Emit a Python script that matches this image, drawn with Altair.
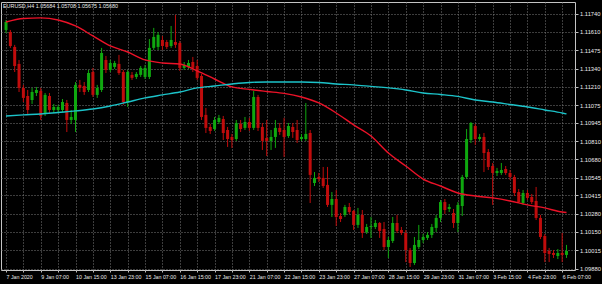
import altair as alt
import pandas as pd

# ---- data (EURUSD H4) ----
bar_index = list(range(-1, 129))

opens = [1.11623, 1.11608, 1.11499, 1.11375, 1.11200, 1.11141, 1.11112, 1.11163, 1.11178, 1.11017,
         1.11141, 1.11039, 1.11039, 1.11039, 1.11090, 1.10966, 1.10966, 1.11222, 1.11214, 1.11185,
         1.11316, 1.11149, 1.11185, 1.11404, 1.11331, 1.11353, 1.11375, 1.11316, 1.11097, 1.11295,
         1.11280, 1.11295, 1.11280, 1.11280, 1.11492, 1.11499, 1.11550, 1.11535, 1.11506, 1.11535,
         1.11528, 1.11346, 1.11353, 1.11389, 1.11360, 1.11287, 1.11003, 1.10915, 1.10900, 1.10951,
         1.10973, 1.10893, 1.10842, 1.10827, 1.10937, 1.10908, 1.10951, 1.10908, 1.11134, 1.10915,
         1.10835, 1.10813, 1.10842, 1.10908, 1.10893, 1.10849, 1.10915, 1.10893, 1.10827, 1.10827,
         1.10871, 1.10506, 1.10550, 1.10543, 1.10492, 1.10346, 1.10389, 1.10265, 1.10273, 1.10331,
         1.10302, 1.10200, 1.10273, 1.10148, 1.10185, 1.10185, 1.10214, 1.10170, 1.10039, 1.10083,
         1.10214, 1.10163, 1.10141, 1.10017, 1.09922, 1.10039, 1.10090, 1.10105, 1.10127, 1.10178,
         1.10251, 1.10367, 1.10316, 1.10287, 1.10214, 1.10338, 1.10550, 1.10820, 1.10922, 1.10827,
         1.10842, 1.10732, 1.10630, 1.10579, 1.10579, 1.10608, 1.10579, 1.10550, 1.10440, 1.10360,
         1.10433, 1.10404, 1.10375, 1.10251, 1.10119, 1.10010, 1.09995, 1.09973, 1.09995, 1.09981]

highs = [1.11696, 1.11623, 1.11514, 1.11404, 1.11222, 1.11185, 1.11200, 1.11207, 1.11200, 1.11163,
         1.11163, 1.11083, 1.11076, 1.11119, 1.11112, 1.11039, 1.11243, 1.11258, 1.11243, 1.11331,
         1.11346, 1.11222, 1.11492, 1.11433, 1.11404, 1.11397, 1.11441, 1.11331, 1.11331, 1.11316,
         1.11316, 1.11360, 1.11368, 1.11557, 1.11638, 1.11608, 1.11579, 1.11550, 1.11652, 1.11733,
         1.11543, 1.11389, 1.11404, 1.11426, 1.11404, 1.11302, 1.11054, 1.10937, 1.10988, 1.11003,
         1.10995, 1.10915, 1.10864, 1.10966, 1.10966, 1.10988, 1.10981, 1.11178, 1.11149, 1.10944,
         1.10966, 1.10893, 1.10966, 1.10944, 1.10981, 1.10944, 1.10944, 1.10966, 1.10864, 1.11090,
         1.10893, 1.10586, 1.10579, 1.10623, 1.10623, 1.10440, 1.10455, 1.10287, 1.10346, 1.10360,
         1.10309, 1.10324, 1.10309, 1.10207, 1.10258, 1.10236, 1.10221, 1.10221, 1.10112, 1.10258,
         1.10273, 1.10185, 1.10163, 1.10032, 1.10112, 1.10200, 1.10134, 1.10148, 1.10207, 1.10273,
         1.10382, 1.10389, 1.10353, 1.10316, 1.10367, 1.10565, 1.10900, 1.10951, 1.10937, 1.10864,
         1.10871, 1.10754, 1.10652, 1.10616, 1.10652, 1.10630, 1.10601, 1.10565, 1.10462, 1.10455,
         1.10455, 1.10426, 1.10477, 1.10273, 1.10134, 1.10032, 1.10017, 1.10024, 1.10141, 1.10054]

lows = [1.11601, 1.11492, 1.11316, 1.11170, 1.11097, 1.11010, 1.11083, 1.11141, 1.10966, 1.10995,
        1.11010, 1.11017, 1.11024, 1.11024, 1.10878, 1.10937, 1.10878, 1.11170, 1.11149, 1.11170,
        1.11134, 1.11127, 1.11170, 1.11309, 1.11316, 1.11338, 1.11295, 1.11076, 1.11061, 1.11258,
        1.11265, 1.11280, 1.11265, 1.11265, 1.11477, 1.11477, 1.11477, 1.11484, 1.11492, 1.11492,
        1.11324, 1.11331, 1.11338, 1.11316, 1.11258, 1.10966, 1.10871, 1.10864, 1.10886, 1.10937,
        1.10820, 1.10769, 1.10762, 1.10813, 1.10878, 1.10893, 1.10886, 1.10893, 1.10886, 1.10747,
        1.10703, 1.10747, 1.10762, 1.10857, 1.10696, 1.10835, 1.10835, 1.10798, 1.10813, 1.10813,
        1.10360, 1.10484, 1.10513, 1.10470, 1.10331, 1.10258, 1.10192, 1.10221, 1.10258, 1.10280,
        1.10163, 1.10178, 1.10105, 1.10134, 1.10105, 1.10170, 1.10105, 1.10017, 1.09959, 1.10068,
        1.10141, 1.10127, 1.09929, 1.09893, 1.09908, 1.10024, 1.10068, 1.10090, 1.10105, 1.10148,
        1.10221, 1.10280, 1.10294, 1.10178, 1.10148, 1.10265, 1.10535, 1.10798, 1.10784, 1.10813,
        1.10586, 1.10601, 1.10346, 1.10557, 1.10565, 1.10565, 1.10528, 1.10411, 1.10360, 1.10346,
        1.10382, 1.10353, 1.10236, 1.10097, 1.09929, 1.09929, 1.09959, 1.09951, 1.09929, 1.09959]

closes = [1.11681, 1.11506, 1.11360, 1.11200, 1.11127, 1.11039, 1.11170, 1.11185, 1.10995, 1.11149,
          1.11039, 1.11061, 1.11061, 1.11097, 1.10966, 1.10988, 1.11222, 1.11200, 1.11170, 1.11309,
          1.11149, 1.11200, 1.11455, 1.11331, 1.11382, 1.11382, 1.11309, 1.11097, 1.11316, 1.11273,
          1.11302, 1.11346, 1.11346, 1.11492, 1.11572, 1.11587, 1.11506, 1.11499, 1.11550, 1.11514,
          1.11346, 1.11368, 1.11382, 1.11346, 1.11273, 1.10988, 1.10908, 1.10886, 1.10966, 1.10981,
          1.10871, 1.10827, 1.10820, 1.10944, 1.10900, 1.10951, 1.10908, 1.11134, 1.10908, 1.10813,
          1.10813, 1.10842, 1.10908, 1.10878, 1.10842, 1.10922, 1.10878, 1.10820, 1.10842, 1.10864,
          1.10565, 1.10543, 1.10535, 1.10484, 1.10346, 1.10389, 1.10258, 1.10243, 1.10331, 1.10294,
          1.10200, 1.10273, 1.10141, 1.10185, 1.10192, 1.10214, 1.10156, 1.10039, 1.10090, 1.10214,
          1.10156, 1.10141, 1.10017, 1.09922, 1.10054, 1.10090, 1.10112, 1.10127, 1.10185, 1.10251,
          1.10367, 1.10309, 1.10331, 1.10214, 1.10346, 1.10550, 1.10827, 1.10944, 1.10827, 1.10842,
          1.10725, 1.10623, 1.10579, 1.10594, 1.10601, 1.10579, 1.10550, 1.10433, 1.10367, 1.10433,
          1.10397, 1.10367, 1.10251, 1.10112, 1.09995, 1.09988, 1.09981, 1.09995, 1.09981, 1.10010]

ma_index = [-1, 3, 7, 11, 15, 19, 23, 27, 31, 35, 39, 43, 47, 51, 55, 59, 63, 67, 71, 75,
            79, 83, 87, 91, 95, 99, 103, 107, 111, 115, 119, 123, 127, 128]
ma_red = [1.11681, 1.11707, 1.11711, 1.11696, 1.11652, 1.11579, 1.11506, 1.11462, 1.11404, 1.11382,
          1.11375, 1.11324, 1.11265, 1.11207, 1.11189, 1.11174, 1.11160, 1.11134, 1.11090, 1.11017,
          1.10930, 1.10849, 1.10725, 1.10630, 1.10535, 1.10484, 1.10433, 1.10411, 1.10397, 1.10375,
          1.10346, 1.10324, 1.10294, 1.10291]
ma_cyan = [1.10995, 1.11003, 1.11010, 1.11021, 1.11032, 1.11046, 1.11068, 1.11097, 1.11127, 1.11149,
           1.11170, 1.11200, 1.11214, 1.11229, 1.11240, 1.11243, 1.11243, 1.11243, 1.11240, 1.11229,
           1.11222, 1.11211, 1.11200, 1.11185, 1.11163, 1.11152, 1.11138, 1.11112, 1.11097, 1.11079,
           1.11061, 1.11039, 1.11017, 1.11010]

y_ticks = [1.11740, 1.11610, 1.11475, 1.11340, 1.11210, 1.11075, 1.10945, 1.10810,
           1.10680, 1.10545, 1.10415, 1.10280, 1.10150, 1.10015, 1.09880]

x_label_index = [-1, 7, 15, 23, 31, 39, 47, 55, 63, 71, 79, 87, 95, 103, 111, 119, 127]
x_labels = ["7 Jan 2020", "9 Jan 07:00", "10 Jan 15:00", "13 Jan 23:00", "15 Jan 07:00",
            "16 Jan 15:00", "17 Jan 23:00", "21 Jan 07:00", "22 Jan 15:00", "23 Jan 23:00",
            "27 Jan 07:00", "28 Jan 15:00", "29 Jan 23:00", "31 Jan 07:00", "3 Feb 15:00",
            "4 Feb 23:00", "6 Feb 07:00"]
x_grid_index = list(range(-1, 128, 4))

title_text = ["EURUSD,H4  1.05684 1.05708 1.05675 1.05680"]

# ---- tables ----
df = pd.DataFrame({"i": bar_index, "open": opens, "high": highs, "low": lows, "close": closes})
df["dir"] = ["up" if c >= o else "down" for o, c in zip(opens, closes)]
ma_df = pd.DataFrame({"i": ma_index, "red": ma_red, "cyan": ma_cyan})
title_df = pd.DataFrame({"t": title_text})

FONT = "Liberation Sans"
TXT = "#ebebeb"
GRID = "#7a7a7a"

xs = alt.Scale(domain=[-1.0, 128.8], nice=False, zero=False)
ys = alt.Scale(domain=[1.09871, 1.11827], nice=False, zero=False)

label_expr = "".join(f"datum.value == {i} ? '{t}' : " for i, t in zip(x_label_index, x_labels)) + "''"

x_axis = alt.Axis(values=x_grid_index, labelExpr=label_expr, grid=True, gridColor=GRID,
                  gridDash=[1, 2], gridWidth=1, domain=False, ticks=True, tickColor="#bfbfbf",
                  tickSize=2, labelColor=TXT, labelFont=FONT, labelFontSize=5.3,
                  labelAlign="left", labelBaseline="top", labelPadding=2, labelOverlap=False,
                  labelFlush=False, labelBound=False, title=None)
y_axis = alt.Axis(orient="right", values=y_ticks, format=".5f", grid=True, gridColor=GRID,
                  gridDash=[1, 2], gridWidth=1, domain=False, ticks=True, tickColor="#bfbfbf",
                  tickSize=3, labelColor=TXT, labelFont=FONT, labelFontSize=5.8,
                  labelAlign="left", labelBaseline="middle", labelPadding=1.5, labelOverlap=False,
                  labelFlush=False, labelBound=False, title=None)


def X():
    return alt.X("i:Q", scale=xs, axis=x_axis)


def Y(field):
    return alt.Y(f"{field}:Q", scale=ys, axis=y_axis)


color = alt.Color("dir:N", scale=alt.Scale(domain=["up", "down"], range=["#14e614", "#ff1414"]),
                  legend=None)
wick_color = alt.Color("dir:N", scale=alt.Scale(domain=["up", "down"], range=["#0fa80f", "#c00c0c"]),
                       legend=None)

base = alt.Chart(df)

wicks = base.mark_rule(strokeWidth=1, clip=True).encode(
    x=X(), y=Y("low"), y2="high:Q", color=wick_color)

bodies = base.mark_bar(size=3, clip=True).encode(
    x=X(), y=Y("open"), y2="close:Q", color=color)

red_line = alt.Chart(ma_df).mark_line(color="#ec1228", strokeWidth=1.4, interpolate="monotone",
                                      clip=True).encode(x=X(), y=Y("red"))
cyan_line = alt.Chart(ma_df).mark_line(color="#1cc3c9", strokeWidth=1.4, interpolate="monotone",
                                       clip=True).encode(x=X(), y=Y("cyan"))

title = alt.Chart(title_df).mark_text(align="left", baseline="middle", font=FONT, fontSize=5.4,
                                      color=TXT).encode(
    x=alt.value(2), y=alt.value(4), text="t:N")

chart = alt.layer(wicks, bodies, red_line, cyan_line, title).properties(
    width=574, height=268,
    background="#000000",
    padding={"left": 1, "top": 2, "right": 27, "bottom": 14},
    autosize=alt.AutoSizeParams(type="none"),
).configure_view(fill="#000000", stroke="#c4c4c4", strokeWidth=1
).configure_axis(labelOverlap=False, labelFlush=False, labelBound=False)

chart.save("out.html", embed_options={"renderer": "svg", "actions": False})
